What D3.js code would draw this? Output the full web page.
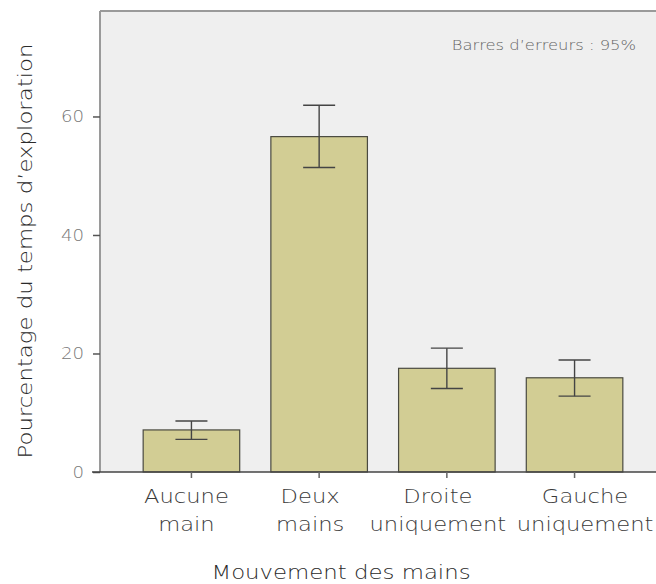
<!DOCTYPE html>
<html><head><meta charset="utf-8">
<script src="https://cdn.jsdelivr.net/npm/d3@7"></script>
<style>
html,body{margin:0;padding:0;background:#fff;}
svg{display:block;}
svg text{font-family:"DejaVu Sans",sans-serif;font-weight:200;}
</style></head>
<body>
<svg id="c" width="656" height="584"></svg>
<script>
const categories = [["Aucune","main"],["Deux","mains"],["Droite","uniquement"],["Gauche","uniquement"]];
const means = [7.1, 56.6, 17.5, 15.9];
const ciLow = [5.5, 51.4, 14.1, 12.8];
const ciHigh = [8.6, 61.9, 20.9, 18.9];
const yTicks = [0, 20, 40, 60];

// layout constants (not data)
const labelShift = [-5, -9, -9, 10.5];

const svg = d3.select("#c");
const L = 100, R = 666, T = 11, B = 472;
const keys = categories.map(c => c.join(" "));
const x = d3.scaleBand().domain(keys).range([L, R]).paddingInner(0.244).paddingOuter(0.338);
const y = d3.scaleLinear().domain([0, 77.8]).range([B, T]);

function stext(parent, tx, ty, extra, k, txt, size, fill, anchor) {
  return parent.append("text")
    .attr("transform", `translate(${tx},${ty}) ${extra} scale(${k},1)`)
    .attr("text-anchor", anchor || "middle").attr("fill", fill)
    .style("font-size", size + "px").text(txt);
}

svg.append("rect").attr("x", L).attr("y", T).attr("width", R - L).attr("height", B - T).attr("fill", "#efefef");
svg.append("line").attr("x1", L).attr("x2", R).attr("y1", T).attr("y2", T).attr("stroke", "#9a9a9a").attr("stroke-width", 2);

// bars
svg.selectAll(".bar").data(means).join("rect")
  .attr("x", (d, i) => x(keys[i])).attr("width", x.bandwidth())
  .attr("y", d => y(d)).attr("height", d => B - y(d))
  .attr("fill", "#d2cd94").attr("stroke", "#4a4a40").attr("stroke-width", 1.2);

// error bars
const cap = 16;
means.forEach((m, i) => {
  const cx = x(keys[i]) + x.bandwidth() / 2;
  const g = svg.append("g").attr("stroke", "#444").attr("stroke-width", 1.4);
  g.append("line").attr("x1", cx).attr("x2", cx).attr("y1", y(ciLow[i])).attr("y2", y(ciHigh[i]));
  g.append("line").attr("x1", cx - cap).attr("x2", cx + cap).attr("y1", y(ciLow[i])).attr("y2", y(ciLow[i]));
  g.append("line").attr("x1", cx - cap).attr("x2", cx + cap).attr("y1", y(ciHigh[i])).attr("y2", y(ciHigh[i]));
});

// y axis
const ya = svg.append("g").attr("transform", `translate(${L},0)`)
  .call(d3.axisLeft(y).tickValues(yTicks).tickSize(7).tickFormat(""));
ya.select(".domain").attr("stroke", "#9a9a9a").attr("stroke-width", 2).attr("d", `M0,${B}V${T}`);
ya.selectAll(".tick line").attr("stroke", "#555").attr("stroke-width", 1.5);
ya.selectAll(".tick").each(function(d) {
  stext(d3.select(this), -16, 5.5, "", 1.17, d, 15.5, "#777", "end");
});

// x axis
const xa = svg.append("g").attr("transform", `translate(0,${B})`)
  .call(d3.axisBottom(x).tickSize(6).tickFormat(""));
xa.select(".domain").attr("stroke", "#444").attr("stroke-width", 1.5).attr("d", `M${L - 8},0H${R}`);
xa.selectAll(".tick line").attr("stroke", "#666").attr("stroke-width", 1.5);
xa.selectAll(".tick").each(function(d, i) {
  const g = d3.select(this);
  categories[i].forEach((line, j) => {
    stext(g, labelShift[i], 31 + j * 28, "", 1.16, line, 19.5, "#3a3a3a");
  });
});

// titles
stext(svg, 341, 579, "", 1.17, "Mouvement des mains", 19.5, "#2a2a2a");
stext(svg, 32, 251, "rotate(-90)", 1.17, "Pourcentage du temps d’exploration", 19.5, "#2a2a2a");
stext(svg, 636, 50, "", 1.17, "Barres d’erreurs : 95%", 14, "#666", "end");
</script>
</body></html>
